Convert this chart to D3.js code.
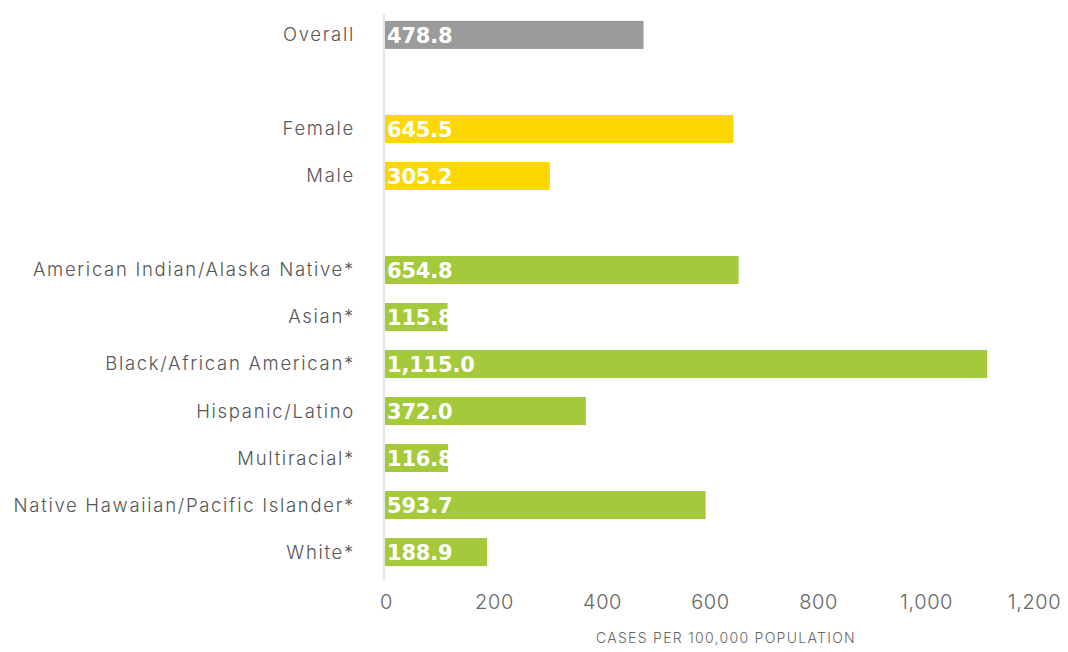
<!DOCTYPE html>
<html><head><meta charset="utf-8">
<script src="https://cdn.jsdelivr.net/npm/d3@7"></script>
<style>body{margin:0;background:#fff;} svg{display:block;}</style>
</head><body>
<svg id="c" width="1068" height="652"></svg>
<script>
const categories = ["Overall","","Female","Male"," ","American Indian/Alaska Native*","Asian*","Black/African American*","Hispanic/Latino","Multiracial*","Native Hawaiian/Pacific Islander*","White*"];
const values = [478.8,null,645.5,305.2,null,654.8,115.8,1115.0,372.0,116.8,593.7,188.9];
const groups = ["overall",null,"sex","sex",null,"race","race","race","race","race","race","race"];
const tickValues = [0,200,400,600,800,1000,1200];
const axisTitle = "CASES PER 100,000 POPULATION";
const colors = {overall:"#9b9b9b", sex:"#fdd700", race:"#a4c93a"};

const svg = d3.select("#c");
const x = d3.scaleLinear().domain([0,1200]).range([384,1032]);
const y = d3.scaleBand().domain(categories).range([11.5,575.5]).paddingInner(0.404).paddingOuter(0.2);

const data = categories.map((c,i)=>({c, v:values[i], g:groups[i]})).filter(d=>d.v!=null);

svg.append("line").attr("x1",384).attr("x2",384).attr("y1",14).attr("y2",580)
  .attr("stroke","#dcdcdc").attr("stroke-width",1.5);

svg.selectAll("rect.bar").data(data).join("rect").attr("class","bar")
  .attr("x",x(0)+1).attr("y",d=>y(d.c)).attr("height",y.bandwidth())
  .attr("width",d=>x(d.v)-x(0)).attr("fill",d=>colors[d.g]);

const fmt = d3.format(",.1f");
svg.selectAll("text.val").data(data).join("text").attr("class","val")
  .attr("x",387).attr("y",d=>y(d.c)+y.bandwidth()/2).attr("dy","0.37em")
  .attr("fill","#fff").attr("font-family","DejaVu Sans, sans-serif")
  .attr("font-weight","bold").attr("font-size",21).attr("letter-spacing","-0.2")
  .text(d=>fmt(d.v));

svg.selectAll("text.cat").data(data).join("text").attr("class","cat")
  .attr("x",355).attr("y",d=>y(d.c)+y.bandwidth()/2).attr("dy","0.35em")
  .attr("text-anchor","end").attr("fill","#555")
  .attr("font-family","Inter, sans-serif").attr("font-weight",300).attr("font-size",18.5)
  .attr("letter-spacing","1.7")
  .text(d=>d.c);

const ax = svg.append("g").attr("transform","translate(2,592)")
  .call(d3.axisBottom(x).tickValues(tickValues).tickSize(0).tickFormat(d3.format(",")));
ax.select(".domain").remove();
ax.selectAll("text").attr("fill","#666").attr("font-family","Inter, sans-serif")
  .attr("font-weight",300).attr("font-size",20).attr("letter-spacing","0.6").attr("dy","0.71em");

svg.append("text").attr("x",726).attr("y",643).attr("text-anchor","middle")
  .attr("fill","#666").attr("font-family","Inter, sans-serif").attr("font-weight",300)
  .attr("font-size",14).attr("letter-spacing","1.3").text(axisTitle);
</script>
</body></html>
